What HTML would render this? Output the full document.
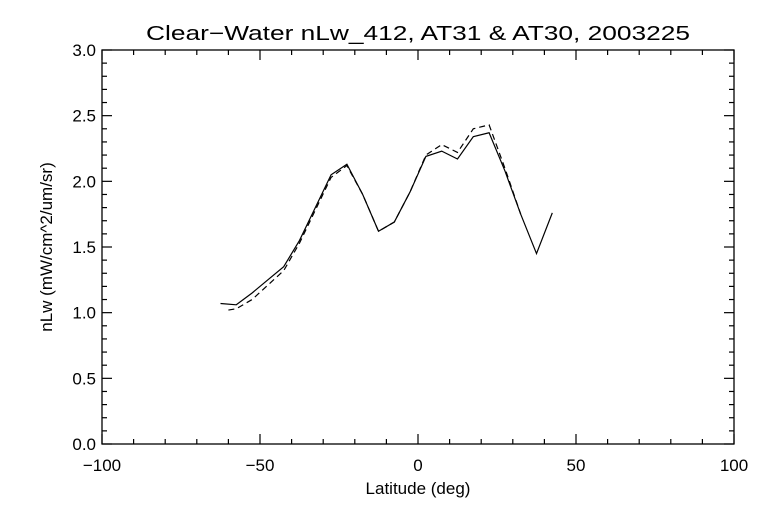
<!DOCTYPE html>
<html><head><meta charset="utf-8"><style>
body{margin:0;background:#fff}
svg text{font-family:"Liberation Sans",sans-serif;fill:#000}
</style></head><body>
<svg id="chart" width="768" height="512" xmlns="http://www.w3.org/2000/svg">
<text x="418" y="40" font-size="20" text-anchor="middle" textLength="544" lengthAdjust="spacingAndGlyphs">Clear−Water nLw_412, AT31 &amp; AT30, 2003225</text>
<rect x="102" y="50" width="632" height="394" fill="none" stroke="#000" stroke-width="1.3"/>
<g id="ticks"></g>
<text x="418" y="494" font-size="17" text-anchor="middle">Latitude (deg)</text>
<text transform="translate(52,247) rotate(-90)" font-size="17" text-anchor="middle">nLw (mW/cm^2/um/sr)</text>
<g id="series"></g>
</svg>
<script>
const latA=[-62.5,-57.5,-52.5,-47.5,-42.5,-37.5,-32.5,-27.5,-22.5,-17.5,-12.5,-7.5,-2.5,2.5,7.5,12.5,17.5,22.5,27.5,32.5,37.5,42.5];
const valA=[1.07,1.06,1.15,1.25,1.35,1.55,1.8,2.05,2.13,1.9,1.62,1.69,1.92,2.19,2.23,2.17,2.34,2.37,2.08,1.75,1.45,1.76];
const latB=[-60,-57.5,-52.5,-47.5,-42.5,-37.5,-32.5,-27.5,-22.5,-17.5,-12.5,-7.5,-2.5,2.5,7.5,12.5,17.5,22.5,27.5,32.5];
const valB=[1.02,1.03,1.10,1.21,1.32,1.53,1.78,2.03,2.12,1.9,1.62,1.69,1.92,2.2,2.28,2.22,2.40,2.43,2.1,1.75];
const xTicks=[-100,-50,0,50,100];
const yTicks=[0.0,0.5,1.0,1.5,2.0,2.5,3.0];
const X=v=>102+(v+100)*632/200;
const Y=v=>444-v*394/3;
const NS="http://www.w3.org/2000/svg";
const tg=document.getElementById('ticks');
function ln(p,x1,y1,x2,y2){const l=document.createElementNS(NS,'line');l.setAttribute('x1',x1);l.setAttribute('y1',y1);l.setAttribute('x2',x2);l.setAttribute('y2',y2);l.setAttribute('stroke','#000');l.setAttribute('stroke-width','1.2');p.appendChild(l);return l;}
for(let v=-100;v<=100;v+=10){const major=v%50===0;const len=major?10:5;
const t1=ln(tg,X(v),444,X(v),444-len);


const t2=ln(tg,X(v),50,X(v),50+len);

}
for(let i=0;i<=30;i++){const v=i/10;const major=i%5===0;const len=major?10:5;
const t1=ln(tg,102,Y(v),102+len,Y(v));


const t2=ln(tg,734,Y(v),734-len,Y(v));

}
xTicks.forEach(v=>{const t=document.createElementNS(NS,'text');t.setAttribute('x',X(v));t.setAttribute('y',471);t.setAttribute('font-size','17');t.setAttribute('text-anchor','middle');t.textContent=(v<0?'−':'')+Math.abs(v);


tg.appendChild(t);});
yTicks.forEach(v=>{const t=document.createElementNS(NS,'text');t.setAttribute('x',96);t.setAttribute('y',Y(v)+6);t.setAttribute('font-size','17');t.setAttribute('text-anchor','end');t.textContent=v.toFixed(1);


tg.appendChild(t);});
const sg=document.getElementById('series');
function poly(lat,val,dash,name){const p=document.createElementNS(NS,'polyline');p.setAttribute('points',lat.map((l,i)=>X(l)+','+Y(val[i])).join(' '));p.setAttribute('fill','none');p.setAttribute('stroke','#000');p.setAttribute('stroke-width','1.2');if(dash)p.setAttribute('stroke-dasharray','6,4');sg.appendChild(p);return p;}
const pa=poly(latA,valA,false);


const pb=poly(latB,valB,true);


</script>
</body></html>
